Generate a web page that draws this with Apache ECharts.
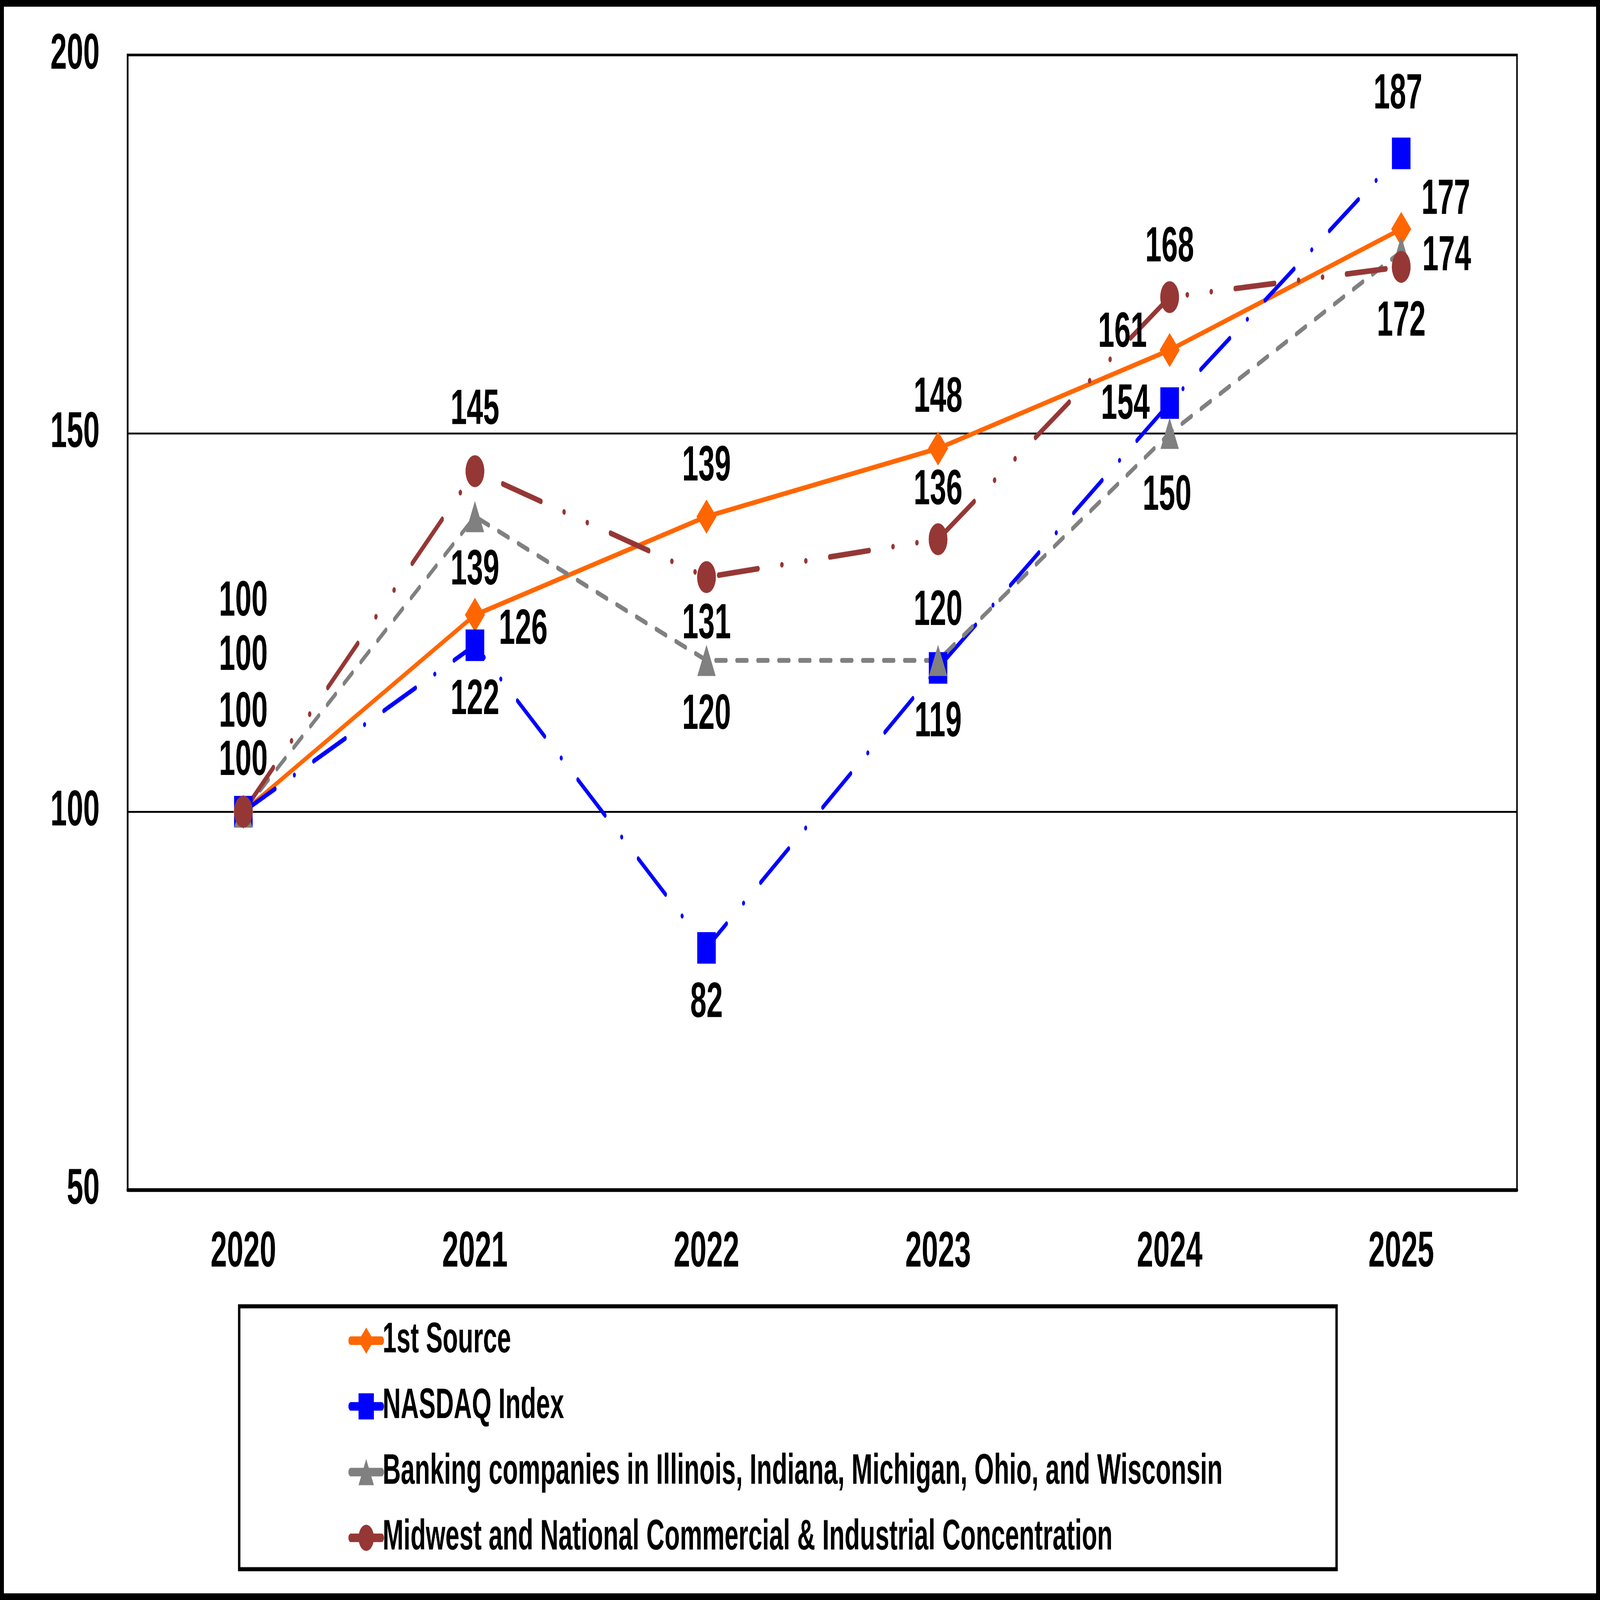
<!DOCTYPE html>
<html>
<head>
<meta charset="utf-8">
<script src="https://cdn.jsdelivr.net/npm/echarts@6/dist/echarts.min.js"></script>
<style>
html,body{margin:0;padding:0;background:#fff;overflow:hidden;}
#chart{width:7325px;height:4309px;transform-origin:0 0;}
</style>
</head>
<body>
<div id="chart"></div>
<script>
// ---- data ----
const categories = ['2020', '2021', '2022', '2023', '2024', '2025'];
const seriesNames = [
  '1st Source',
  'NASDAQ Index',
  'Banking companies in Illinois, Indiana, Michigan, Ohio, and Wisconsin',
  'Midwest and National Commercial & Industrial Concentration'
];
const firstSource = [100, 126, 139, 148, 161, 177];
const nasdaq = [100, 122, 82, 119, 154, 187];
const banking = [100, 139, 120, 120, 150, 174];
const midwest = [100, 145, 131, 136, 168, 172];
const yTicks = { min: 50, max: 200, interval: 50 };

// ---- label layout (pixel offsets of each value label from its point) ----
const offFirst = [[0,-565],[221,41],[0,-134],[0,-136],[-216,-46],[204,-78]];
const offNasdaq = [[0,-419],[0,148],[0,149],[0,147],[-203,6],[-15,-158]];
const offBanking = [[0,-266],[0,146],[0,148],[0,-132],[-12,169],[208,13]];
const offMidwest = [[0,-136],[0,-164],[0,128],[0,-131],[0,-133],[0,148]];

const W = 7325, H = 4309;
const FONT = 'Liberation Sans, Arial, sans-serif';

// fit the fixed-size drawing into whatever window the page is opened in
const el = document.getElementById('chart');
const sx = window.innerWidth / W, sy = window.innerHeight / H;
if (Math.abs(sx - 1) > 1e-3 || Math.abs(sy - 1) > 1e-3) {
  el.style.transform = 'scale(' + sx + ',' + sy + ')';
}

function withLabels(values, offs) {
  return values.map((v, i) => ({ value: v, label: { offset: offs[i] } }));
}

const labelBase = {
  show: true, position: 'inside', color: '#000', fontWeight: 'bold',
  fontSize: 134, fontFamily: FONT, lineHeight: 134
};

function mkSeries(name, values, offs, color, symbol, symbolSize, lineStyle) {
  return {
    name: name, type: 'line', data: withLabels(values, offs),
    symbol: symbol, symbolSize: symbolSize,
    itemStyle: { color: color },
    lineStyle: Object.assign({ color: color }, lineStyle),
    label: labelBase,
    emphasis: { disabled: true }
  };
}

const chart = echarts.init(el, null, { renderer: 'canvas', width: W, height: H });
chart.setOption({
  animation: false,
  backgroundColor: '#fff',
  grid: {
    left: 584, right: 380, top: 148, bottom: 1104,
    show: true, borderColor: '#000', borderWidth: 7, backgroundColor: 'transparent'
  },
  xAxis: {
    type: 'category', data: categories, boundaryGap: true,
    axisLine: { show: true, lineStyle: { color: '#000', width: 10 } },
    axisTick: { show: false },
    axisLabel: { color: '#000', fontWeight: 'bold', fontSize: 135, fontFamily: FONT, margin: 101, lineHeight: 135 },
    splitLine: { show: false }
  },
  yAxis: {
    type: 'value', min: yTicks.min, max: yTicks.max, interval: yTicks.interval,
    axisLine: { show: true, lineStyle: { color: '#000', width: 7 } },
    axisTick: { show: false },
    axisLabel: { color: '#000', fontWeight: 'bold', fontSize: 135, fontFamily: FONT, margin: 128 },
    splitLine: { show: true, lineStyle: { color: '#000', width: 5 } }
  },
  legend: {
    orient: 'vertical', left: 1590, top: 3548,
    itemWidth: 140, itemHeight: 88, itemGap: 62, itemTextGap: 10,
    textStyle: { color: '#000', fontWeight: 'bold', fontSize: 115, fontFamily: FONT },
    lineStyle: { type: 'solid', width: 23, cap: 'round' },
    selectedMode: false,
    data: seriesNames
  },
  graphic: [
    { type: 'rect', shape: { x: 1095, y: 3518, width: 5024, height: 708 },
      style: { fill: 'none', stroke: '#000', lineWidth: 11 }, z: 0 },
    { type: 'rect', shape: { x: 9, y: 9, width: 7307, height: 4291 },
      style: { fill: 'none', stroke: '#000', lineWidth: 18 }, z: 0 }
  ],
  series: [
    mkSeries(seriesNames[0], firstSource, offFirst, '#FF6600', 'diamond', 92,
      { width: 13, type: 'solid' }),
    mkSeries(seriesNames[1], nasdaq, offNasdaq, '#0000FF', 'rect', 85,
      { width: 13, type: [158, 95, 1, 95], cap: 'round' }),
    mkSeries(seriesNames[2], banking, offBanking, '#808080', 'triangle', 84,
      { width: 13, type: [48, 48], cap: 'round' }),
    mkSeries(seriesNames[3], midwest, offMidwest, '#953735', 'circle', 86,
      { width: 15, type: [182, 109, 1, 109, 1, 109], cap: 'round' })
  ]
});
</script>
</body>
</html>
